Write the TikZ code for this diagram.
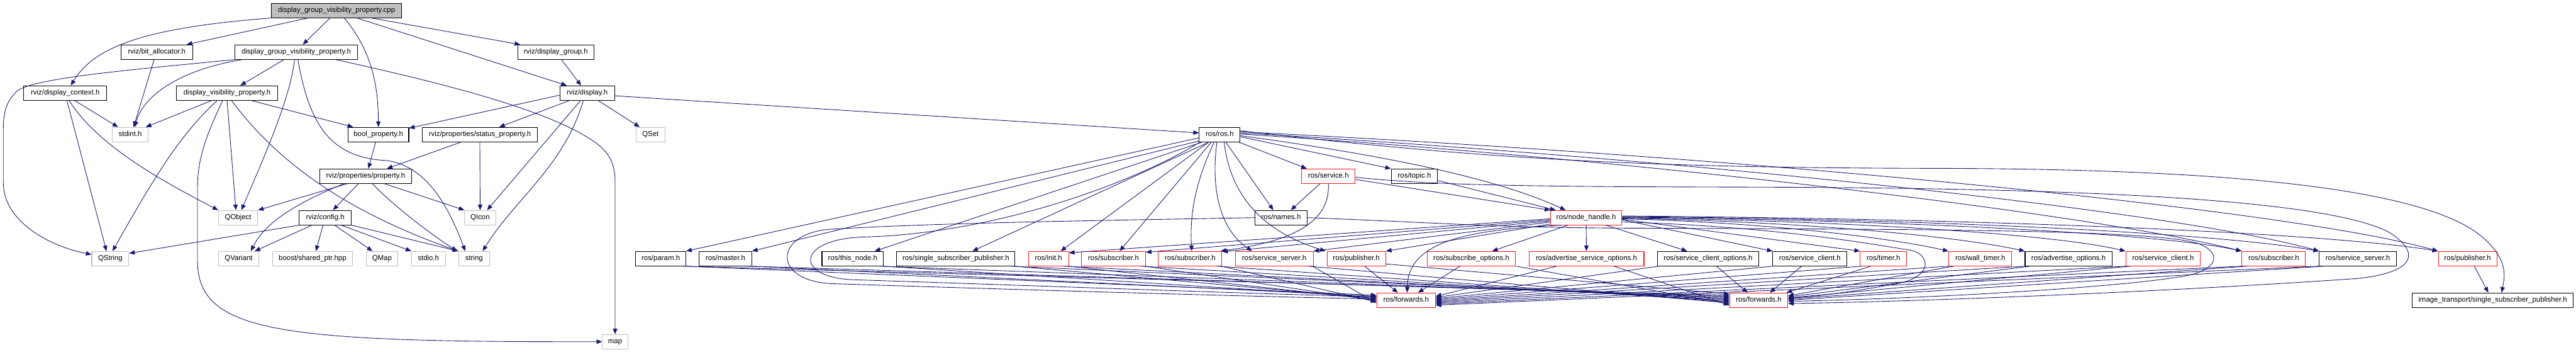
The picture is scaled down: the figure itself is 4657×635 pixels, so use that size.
\documentclass[tikz,border=0pt]{standalone}
\usepackage{fontspec}
\setmainfont{Liberation Sans}
\usetikzlibrary{arrows.meta,calc}
\definecolor{edgec}{HTML}{191970}
\definecolor{redc}{HTML}{FF1A1A}
\definecolor{grayc}{HTML}{BFBFBF}
\newcommand\nd[6]{\pgfmathsetmacro\ndX{(#2+#3)/2}\pgfmathsetmacro\ndW{(#3-#2)*0.5}\node[#5,minimum width=\ndW pt] (#1) at (\ndX,#4+13) {#6};}
\begin{document}
\begin{tikzpicture}[x=0.5pt,y=-0.5pt,
  font=\fontsize{6.5pt}{7pt}\selectfont,
  base/.style={inner sep=0pt, minimum height=13pt, text height=4.8pt, text depth=1.4pt, line width=0.6pt, fill=white},
  nb/.style={base, draw=black},
  nr/.style={base, draw=redc},
  ng/.style={base, draw=grayc},
  ncpp/.style={base, draw=black, fill=grayc},
  edg/.style={draw=edgec, line width=0.5pt, -{Triangle[length=5pt,width=4pt]}}]
\useasboundingbox (0,0) rectangle (4657,635);
\fill[white] (0,0) rectangle (4657,635);
% ---- nodes
\nd{cpp}{491}{726}{6}{ncpp}{display\_group\_visibility\_property.cpp}
\nd{bitalloc}{219}{348}{81}{nb}{rviz/bit\_allocator.h}
\nd{dgvph}{425}{646}{81}{nb}{display\_group\_visibility\_property.h}
\nd{dispgroup}{936}{1074}{81}{nb}{rviz/display\_group.h}
\nd{dispctx}{43}{193}{155}{nb}{rviz/display\_context.h}
\nd{dvp}{319}{502}{155}{nb}{display\_visibility\_property.h}
\nd{display}{1012}{1111}{155}{nb}{rviz/display.h}
\nd{stdint}{203}{268}{230}{ng}{stdint.h}
\nd{boolprop}{629}{739}{230}{nb}{bool\_property.h}
\nd{statusprop}{763}{972}{230}{nb}{rviz/properties/status\_property.h}
\nd{qset}{1150}{1202}{230}{ng}{QSet}
\nd{rosh}{2168}{2242}{230}{nb}{ros/ros.h}
\nd{property}{578}{744}{305}{nb}{rviz/properties/property.h}
\nd{service}{2353}{2450}{305}{nr}{ros/service.h}
\nd{topic}{2515}{2599}{305}{nb}{ros/topic.h}
\nd{qobject}{395}{466}{380}{ng}{QObject}
\nd{config}{541}{635}{380}{nb}{rviz/config.h}
\nd{qicon}{840}{896}{380}{ng}{QIcon}
\nd{names}{2269}{2363}{380}{nb}{ros/names.h}
\nd{nh}{2803}{2932}{380}{nr}{ros/node\_handle.h}
\nd{qstring}{166}{233}{454}{ng}{QString}
\nd{qvariant}{395}{468}{454}{ng}{QVariant}
\nd{boost}{493}{637}{454}{ng}{boost/shared\_ptr.hpp}
\nd{qmap}{662}{719}{454}{ng}{QMap}
\nd{stdio}{744}{805}{454}{ng}{stdio.h}
\nd{string}{829}{885}{454}{ng}{string}
\nd{param}{1149}{1240}{454}{nb}{ros/param.h}
\nd{master}{1264}{1359}{454}{nb}{ros/master.h}
\nd{thisnode}{1486}{1597}{454}{nb}{ros/this\_node.h}
\nd{ssp}{1621}{1835}{454}{nb}{ros/single\_subscriber\_publisher.h}
\nd{init}{1859}{1932}{454}{nr}{ros/init.h}
\nd{sub1}{1955}{2071}{454}{nr}{ros/subscriber.h}
\nd{sub2}{2094}{2209}{454}{nr}{ros/subscriber.h}
\nd{srvsrv1}{2233}{2374}{454}{nr}{ros/service\_server.h}
\nd{pub1}{2399}{2505}{454}{nr}{ros/publisher.h}
\nd{subopt}{2580}{2740}{454}{nr}{ros/subscribe\_options.h}
\nd{advsrvopt}{2764}{2972}{454}{nr}{ros/advertise\_service\_options.h}
\nd{srvcliopt}{2996}{3180}{454}{nb}{ros/service\_client\_options.h}
\nd{srvcli1}{3205}{3339}{454}{nb}{ros/service\_client.h}
\nd{timer}{3363}{3447}{454}{nr}{ros/timer.h}
\nd{walltimer}{3523}{3637}{454}{nr}{ros/wall\_timer.h}
\nd{advopt}{3661}{3818}{454}{nb}{ros/advertise\_options.h}
\nd{srvcli2}{3843}{3978}{454}{nr}{ros/service\_client.h}
\nd{sub3}{4053}{4168}{454}{nr}{ros/subscriber.h}
\nd{srvsrv2}{4193}{4332}{454}{nb}{ros/service\_server.h}
\nd{pub2}{4408}{4514}{454}{nr}{ros/publisher.h}
\nd{fwdA}{2489}{2595}{529}{nr}{ros/forwards.h}
\nd{fwdB}{3127}{3232}{529}{nr}{ros/forwards.h}
\nd{itssp}{4361}{4652}{529}{nb}{image\_transport/single\_subscriber\_publisher.h}
\nd{map}{1089}{1135}{604}{ng}{map}
% ---- cpp
\draw[edg] (cpp.south west) .. controls (260,50) and (170,85) .. ($(dispctx.north)+(10,0)$);
\draw[edg] ($(cpp.south)+(-52,0)$) -- ($(bitalloc.north)+(54,0)$);
\draw[edg] ($(cpp.south)+(-12,0)$) -- ($(dgvph.north)+(12,0)$);
\draw[edg] ($(cpp.south)+(14,0)$) .. controls (670,90) and (684,150) .. (boolprop.north);
\draw[edg] ($(cpp.south)+(37,0)$) -- ($(display.north)+(-37,0)$);
\draw[edg] ($(cpp.south east)+(-55,0)$) -- ($(dispgroup.north west)+(5,0)$);
% ---- dgvph
\draw[edg] (dgvph.south west) .. controls (250,125) and (60,140) .. (30,165) .. controls (10,185) and (6,205) .. (6,235) -- (6,330) .. controls (6,400) and (90,445) .. ($(qstring.north west)+(0,6)$);
\draw[edg] ($(dgvph.south west)+(14,0)$) .. controls (330,125) and (260,170) .. ($(stdint.north)+(8,0)$);
\draw[edg] ($(dgvph.south)+(-22,0)$) -- ($(dvp.north)+(24,0)$);
\draw[edg] ($(dgvph.south)+(-3,0)$) .. controls (525,180) and (470,300) .. ($(qobject.north)+(6,0)$);
\draw[edg] ($(dgvph.south)+(3,0)$) .. controls (560,230) and (600,285) .. (700,290) .. controls (770,300) and (810,370) .. ($(string.north)+(-16,0)$);
\draw[edg] ($(dgvph.south east)+(-40,0)$) .. controls (800,150) and (1000,200) .. (1080,260) .. controls (1105,280) and (1112,300) .. (1112,330) -- (map.north);
% ---- bitalloc, dispctx, dvp
\draw[edg] ($(bitalloc.south)+(-5,0)$) -- ($(stdint.north)+(6,0)$);
\draw[edg] ($(dispctx.south)+(17,0)$) -- ($(stdint.north west)+(11,0)$);
\draw[edg] ($(dispctx.south)+(7,0)$) .. controls (175,260) and (280,320) .. (qobject.north west);
\draw[edg] ($(dispctx.south)+(3,0)$) -- ($(qstring.north)+(-7,0)$);
\draw[edg] ($(dvp.south)+(-28,0)$) -- ($(stdint.north east)+(-5,0)$);
\draw[edg] ($(dvp.south)+(-18,0)$) .. controls (330,240) and (290,300) .. ($(qstring.north)+(4,0)$);
\draw[edg] ($(dvp.south)+(-8,0)$) .. controls (370,250) and (357,290) .. (357,340) -- (357,470) .. controls (357,600) and (500,618) .. (map.west);
\draw[edg] (dvp.south) -- ($(qobject.north)+(-4,0)$);
\draw[edg] ($(dvp.south)+(8,0)$) .. controls (500,290) and (620,380) .. (string.north west);
\draw[edg] ($(dvp.south east)+(-48,0)$) -- ($(boolprop.north west)+(10,0)$);
% ---- bool, status, property, config
\draw[edg] ($(boolprop.south)+(-5,0)$) -- ($(property.north)+(5,0)$);
\draw[edg] ($(statusprop.south west)+(71,0)$) -- ($(property.north east)+(-45,0)$);
\draw[edg] (statusprop.south) -- (qicon.north);
\draw[edg] ($(property.south)+(-33,0)$) -- (qobject.north east);
\draw[edg] ($(property.south)+(-39,0)$) .. controls (540,365) and (480,400) .. ($(qvariant.north)+(22,0)$);
\draw[edg] ($(property.south)+(-13,0)$) -- ($(config.north)+(14,0)$);
\draw[edg] ($(property.south)+(12,0)$) .. controls (720,380) and (790,430) .. ($(string.north west)+(-2,0)$);
\draw[edg] ($(property.south east)+(-50,0)$) -- (qicon.north west);
\draw[edg] (config.south west) -- ($(qstring.north east)+(0,4)$);
\draw[edg] ($(config.south)+(-24,0)$) -- ($(qvariant.north east)+(-8,0)$);
\draw[edg] ($(config.south)+(-4,0)$) -- ($(boost.north)+(6,0)$);
\draw[edg] ($(config.south)+(17,0)$) -- ($(qmap.north west)+(12,0)$);
\draw[edg] ($(config.south)+(29,0)$) -- (stdio.north west);
\draw[edg] (config.south east) -- (string.north west);
% ---- display
\draw[edg] ($(display.west)+(0,4)$) -- ($(boolprop.north east)+(0,2)$);
\draw[edg] ($(display.south west)+(18,0)$) -- ($(statusprop.north east)+(-70,0)$);
\draw[edg] ($(display.south)+(-12,0)$) -- ($(qicon.north east)+(-16,0)$);
\draw[edg] ($(display.south)+(-7,0)$) .. controls (1020,300) and (930,360) .. ($(string.north east)+(-13,0)$);
\draw[edg] ($(display.south)+(20,0)$) -- ($(qset.north west)+(7,0)$);
\draw[edg] ($(display.east)+(0,5)$) -- ($(rosh.west)+(0,-3)$);
\draw[edg] ($(dispgroup.south)+(10,0)$) -- ($(display.north)+(-11,0)$);
% ---- ros.h fan
\draw[edg] ($(rosh.west)+(0,6)$) -- (param.north east);
\draw[edg] ($(rosh.south west)+(0,-2)$) -- (master.north east);
\draw[edg] ($(rosh.south west)+(6,0)$) -- ($(thisnode.north)+(40,0)$);
\draw[edg] ($(rosh.south west)+(18,0)$) -- ($(ssp.north)+(30,0)$);
\draw[edg] ($(rosh.south)+(-20,0)$) -- ($(init.north)+(22,0)$);
\draw[edg] ($(rosh.south)+(-15,0)$) -- ($(sub1.north)+(11,0)$);
\draw[edg] ($(rosh.south)+(-10,0)$) .. controls (2165,320) and (2150,380) .. ($(sub2.north)+(3,0)$);
\draw[edg] ($(rosh.south)+(-5,0)$) .. controls (2190,330) and (2200,410) .. ($(srvsrv1.north)+(-40,0)$);
\draw[edg] ($(rosh.south)+(8,0)$) .. controls (2225,360) and (2290,420) .. ($(pub1.north west)+(-2,0)$);
\draw[edg] ($(rosh.south)+(11,0)$) -- ($(names.north)+(-14,0)$);
\draw[edg] ($(rosh.south east)+(-3,0)$) -- ($(service.north west)+(10,0)$);
\draw[edg] ($(rosh.east)+(0,4)$) -- (topic.north west);
\draw[edg] ($(rosh.east)+(0,2)$) .. controls (2500,280) and (2700,320) .. ($(nh.north west)+(28,0)$);
\draw[edg] ($(rosh.east)+(0,-1)$) .. controls (3000,290) and (3800,390) .. (sub3.north west);
\draw[edg] ($(rosh.east)+(0,-3)$) .. controls (3100,290) and (3950,385) .. (srvsrv2.north west);
\draw[edg] ($(rosh.east)+(0,-5)$) .. controls (3200,285) and (4150,380) .. (pub2.north west);
\draw[edg] ($(rosh.east)+(0,-7)$) .. controls (2700,290) and (3000,303) .. (3500,304) .. controls (4100,305) and (4400,350) .. (4490,430) .. controls (4535,470) and (4528,500) .. ($(itssp.north)+(16,0)$);
\draw[edg] ($(rosh.south west)+(2,0)$) .. controls (2050,330) and (1800,422) .. (1560,428) .. controls (1440,432) and (1435,500) .. (1540,505) .. controls (1850,515) and (2250,530) .. ($(fwdA.west)+(0,-6)$);
% ---- service, topic, names
\draw[edg] ($(service.east)+(0,6)$) -- (nh.north west);
\draw[edg] ($(topic.east)+(0,8)$) -- ($(nh.north west)+(10,0)$);
\draw[edg] ($(service.south west)+(34,0)$) -- ($(names.north east)+(-30,0)$);
\draw[edg] (service.south) .. controls (2405,400) and (2340,435) .. ($(sub2.north east)+(-3,0)$);
\draw[edg] ($(service.east)+(0,2)$) .. controls (2600,336) and (2800,337) .. (3200,338) .. controls (3700,340) and (4200,355) .. (4320,420) .. controls (4375,455) and (4370,492) .. (4260,503) .. controls (3900,528) and (3450,545) .. ($(fwdB.east)+(0,6)$);
\draw[edg] (names.west) .. controls (2000,398) and (1700,402) .. (1500,414) .. controls (1400,422) and (1395,505) .. (1500,512) .. controls (1800,522) and (2250,535) .. ($(fwdA.west)+(0,-2)$);
\draw[edg] (names.east) .. controls (2600,402) and (2700,411) .. (2950,412) .. controls (3500,414) and (3900,415) .. (3975,440) .. controls (4020,458) and (4010,490) .. (3940,500) .. controls (3800,522) and (3450,540) .. ($(fwdB.east)+(0,2)$);
% ---- node_handle
\draw[edg] ($(nh.south west)+(32,0)$) -- ($(subopt.north east)+(-43,0)$);
\draw[edg] (nh.south) -- (advsrvopt.north);
\draw[edg] ($(nh.south east)+(-29,0)$) -- ($(srvcliopt.north)+(-38,0)$);
\draw[edg] ($(nh.west)+(0,2)$) -- ($(init.north east)+(0,3)$);
\draw[edg] ($(nh.west)+(0,4)$) -- ($(sub1.north east)+(0,2)$);
\draw[edg] ($(nh.west)+(0,6)$) -- ($(sub2.north east)+(0,1)$);
\draw[edg] ($(nh.west)+(0,8)$) -- (srvsrv1.north east);
\draw[edg] ($(nh.south west)+(0,-2)$) -- (pub1.north east);
\draw[edg] ($(nh.south west)+(20,0)$) .. controls (2640,415) and (2545,440) .. ($(fwdA.north)+(2,0)$);
\draw[edg] ($(nh.east)+(0,4)$) -- (srvcli1.north west);
\draw[edg] ($(nh.east)+(0,3)$) -- (timer.north west);
\draw[edg] ($(nh.east)+(0,2)$) .. controls (3200,402) and (3420,430) .. (walltimer.north west);
\draw[edg] ($(nh.east)+(0,1)$) .. controls (3250,400) and (3530,425) .. (advopt.north west);
\draw[edg] ($(nh.east)+(0,0)$) .. controls (3300,398) and (3700,420) .. (srvcli2.north west);
\draw[edg] ($(nh.east)+(0,-1)$) .. controls (3400,397) and (3900,420) .. (sub3.north west);
\draw[edg] ($(nh.east)+(0,-2)$) .. controls (3500,396) and (4000,420) .. (srvsrv2.north west);
\draw[edg] ($(nh.east)+(0,-3)$) .. controls (3600,395) and (4200,420) .. (pub2.north west);
\draw[edg] ($(nh.east)+(0,8)$) .. controls (3200,408) and (3380,440) .. (3455,452) .. controls (3490,460) and (3495,500) .. (3430,512) .. controls (3360,525) and (3290,535) .. ($(fwdB.east)+(0,-4)$);
% ---- row 6 to forwards
\foreach \n/\o in {param/-9,master/-7,thisnode/-5,ssp/-3,init/-1,sub1/1,sub2/3,srvsrv1/5}{
  \draw[edg] ($(\n.south east)+(-2,0)$) -- ($(fwdA.west)+(0,\o)$);
  \draw[edg] ($(\n.south east)+(-10,0)$) -- ($(fwdB.west)+(0,\o)$);
}
\draw[edg] ($(pub1.south)+(15,0)$) -- ($(fwdA.north)+(-15,0)$);
\draw[edg] ($(pub1.south east)+(0,-4)$) -- ($(fwdB.west)+(0,-11)$);
\draw[edg] ($(subopt.south west)+(60,0)$) -- ($(fwdA.north east)+(-32,0)$);
\draw[edg] (subopt.south east) -- ($(fwdB.west)+(0,7)$);
\draw[edg] ($(advsrvopt.south west)+(51,0)$) -- ($(fwdA.east)+(0,-7)$);
\draw[edg] ($(advsrvopt.south east)+(-55,0)$) -- ($(fwdB.west)+(0,9)$);
\draw[edg] ($(srvcliopt.south west)+(4,0)$) -- ($(fwdA.east)+(0,-5)$);
\draw[edg] ($(srvcliopt.south)+(15,0)$) -- ($(fwdB.north)+(-20,0)$);
\draw[edg] ($(srvcli1.south west)+(2,0)$) -- ($(fwdA.east)+(0,-3)$);
\draw[edg] ($(srvcli1.south)+(-15,0)$) -- ($(fwdB.north)+(20,0)$);
\draw[edg] ($(timer.south west)+(4,0)$) -- ($(fwdA.east)+(0,-1)$);
\draw[edg] ($(timer.south west)+(20,0)$) -- ($(fwdB.north east)+(-3,0)$);
\foreach \n/\o/\p in {walltimer/1/-8,advopt/3/-6,srvcli2/5/-4,sub3/7/-2,srvsrv2/9/0}{
  \draw[edg] ($(\n.south west)+(2,0)$) -- ($(fwdA.east)+(0,\o)$);
  \draw[edg] ($(\n.south west)+(10,0)$) -- ($(fwdB.east)+(0,\p)$);
}
\draw[edg] ($(pub2.south)+(12,0)$) -- ($(itssp.north)+(-8,0)$);
\end{tikzpicture}
\end{document}
